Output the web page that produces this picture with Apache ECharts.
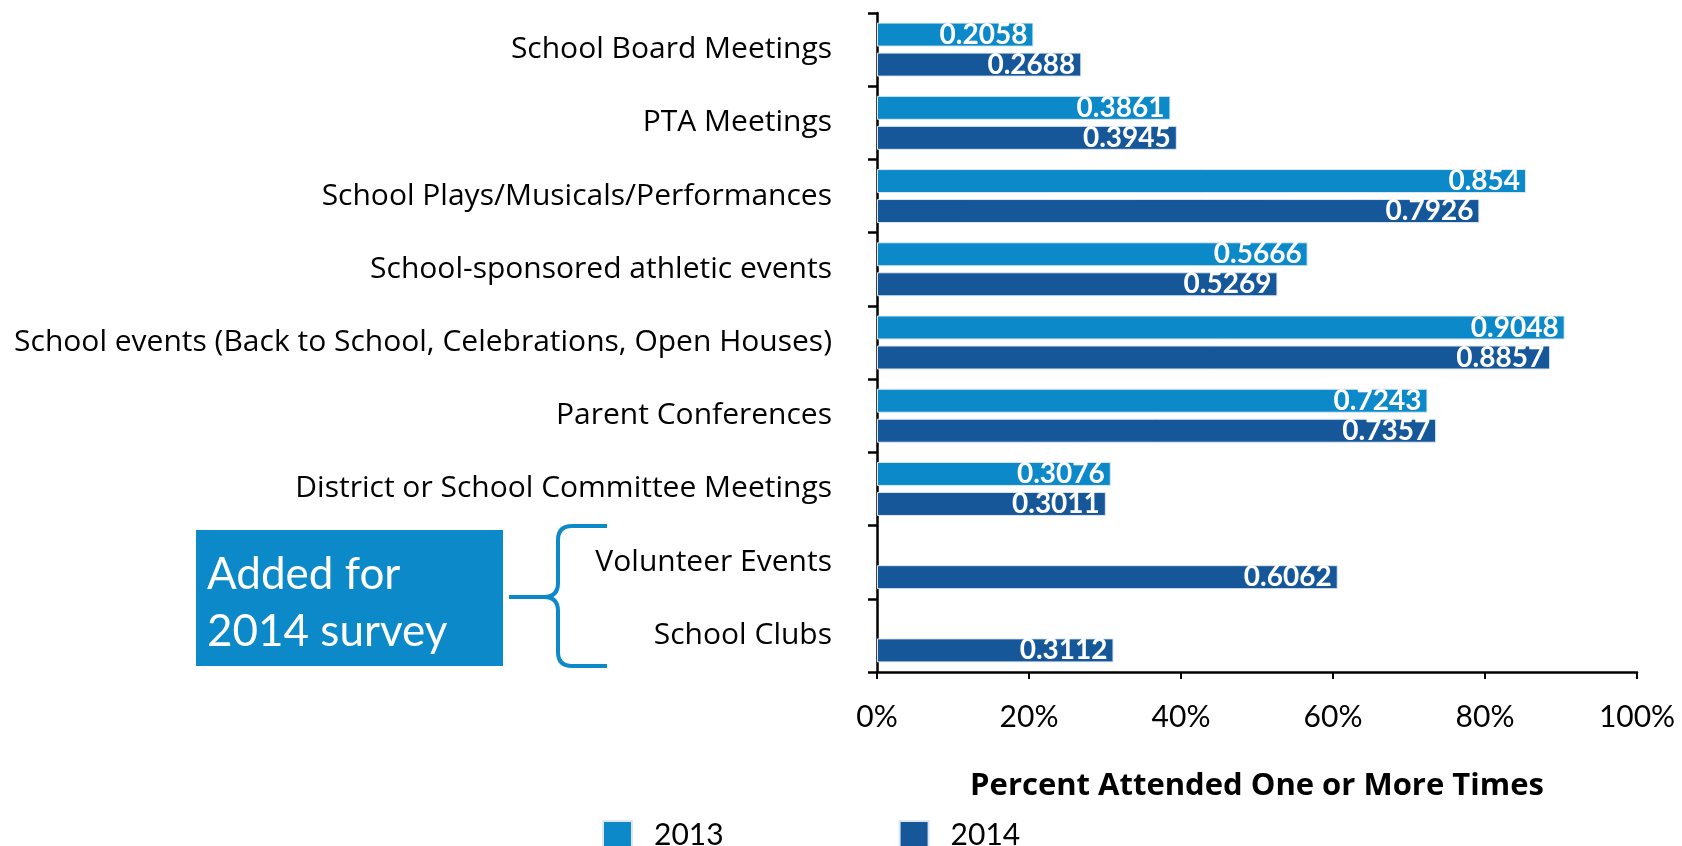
<!DOCTYPE html>
<html>
<head>
<meta charset="utf-8">
<script src="https://cdn.jsdelivr.net/npm/echarts@6/dist/echarts.min.js"></script>
<style>
  html, body { margin: 0; padding: 0; background: #fff; }
  #chart { width: 1682px; height: 846px; }
</style>
</head>
<body>
<div id="chart"></div>
<script>
var categories = [
  'School Board Meetings',
  'PTA Meetings',
  'School Plays/Musicals/Performances',
  'School-sponsored athletic events',
  'School events (Back to School, Celebrations, Open Houses)',
  'Parent Conferences',
  'District or School Committee Meetings',
  'Volunteer Events',
  'School Clubs'
];
var values2013 = [0.2058, 0.3861, 0.854, 0.5666, 0.9048, 0.7243, 0.3076, null, null];
var values2014 = [0.2688, 0.3945, 0.7926, 0.5269, 0.8857, 0.7357, 0.3011, 0.6062, 0.3112];

var FONT = 'Lato';
var blue13 = '#0b89c9';
var blue14 = '#165799';

var chart = echarts.init(document.getElementById('chart'));

function barSeries(name, data, color) {
  return {
    name: name,
    type: 'bar',
    data: data,
    barWidth: 24,
    barGap: '25%',
    itemStyle: { color: color, borderColor: '#dfe8f2', borderWidth: 1 },
    label: {
      show: true,
      position: 'insideRight',
      distance: 6,
      color: '#fff',
      fontFamily: FONT,
      fontWeight: 'bold',
      fontSize: 28,
      formatter: function (p) { return String(p.value); }
    }
  };
}

// brace pieces: straight lines and rounded corners
var braceStyle = { stroke: blue13, lineWidth: 4, fill: 'none' };
function seg(x1, y1, x2, y2) {
  return { type: 'line', shape: { x1: x1, y1: y1, x2: x2, y2: y2 }, style: braceStyle };
}
function corner(x1, y1, cx, cy, x2, y2) {
  return { type: 'bezierCurve', shape: { x1: x1, y1: y1, cpx1: cx, cpy1: cy, x2: x2, y2: y2 }, style: braceStyle };
}

chart.setOption({
  animation: false,
  textStyle: { fontFamily: FONT },
  grid: { left: 877, right: 45, top: 13, bottom: 174, containLabel: false },
  legend: {
    left: 597,
    top: 815,
    itemWidth: 29,
    itemHeight: 29,
    itemGap: 175,
    icon: 'rect',
    data: ['2013', '2014'],
    textStyle: { fontFamily: FONT, fontSize: 30, color: '#000', padding: [0, 0, 0, 17] }
  },
  xAxis: {
    type: 'value',
    min: 0,
    max: 1,
    interval: 0.2,
    name: 'Percent Attended One or More Times',
    nameLocation: 'middle',
    nameGap: 99,
    nameTextStyle: { fontFamily: 'Open Sans', fontSize: 31, fontWeight: 'bold', color: '#000' },
    axisLine: { show: true, lineStyle: { color: '#000', width: 2.5 } },
    axisTick: { show: true, length: 7, lineStyle: { color: '#000', width: 2 } },
    splitLine: { show: false },
    axisLabel: {
      color: '#000',
      fontFamily: FONT,
      fontSize: 30,
      margin: 30,
      formatter: function (v) { return Math.round(v * 100) + '%'; }
    }
  },
  yAxis: {
    type: 'category',
    inverse: true,
    data: categories,
    axisLine: { show: true, lineStyle: { color: '#000', width: 2.5 } },
    axisTick: { show: true, length: 9, lineStyle: { color: '#000', width: 2.5 } },
    axisLabel: { color: '#000', fontFamily: 'Open Sans', fontSize: 30, margin: 45 }
  },
  series: [
    barSeries('2013', values2013, blue13),
    barSeries('2014', values2014, blue14)
  ],
  graphic: [
    {
      type: 'rect',
      shape: { x: 196, y: 530, width: 307, height: 136 },
      style: { fill: blue13 }
    },
    {
      type: 'text',
      x: 207,
      y: 546,
      style: {
        text: 'Added for\n2014 survey',
        fill: '#fff',
        font: '44px Lato',
        lineHeight: 57
      }
    },
    seg(607, 526, 572, 526),
    corner(572, 526, 558, 526, 558, 540),
    seg(558, 540, 558, 583),
    corner(558, 583, 558, 597, 544, 597),
    seg(544, 597, 509, 597),
    corner(544, 597, 558, 597, 558, 611),
    seg(558, 611, 558, 652),
    corner(558, 652, 558, 666, 572, 666),
    seg(572, 666, 607, 666)
  ]
});
</script>
</body>
</html>
